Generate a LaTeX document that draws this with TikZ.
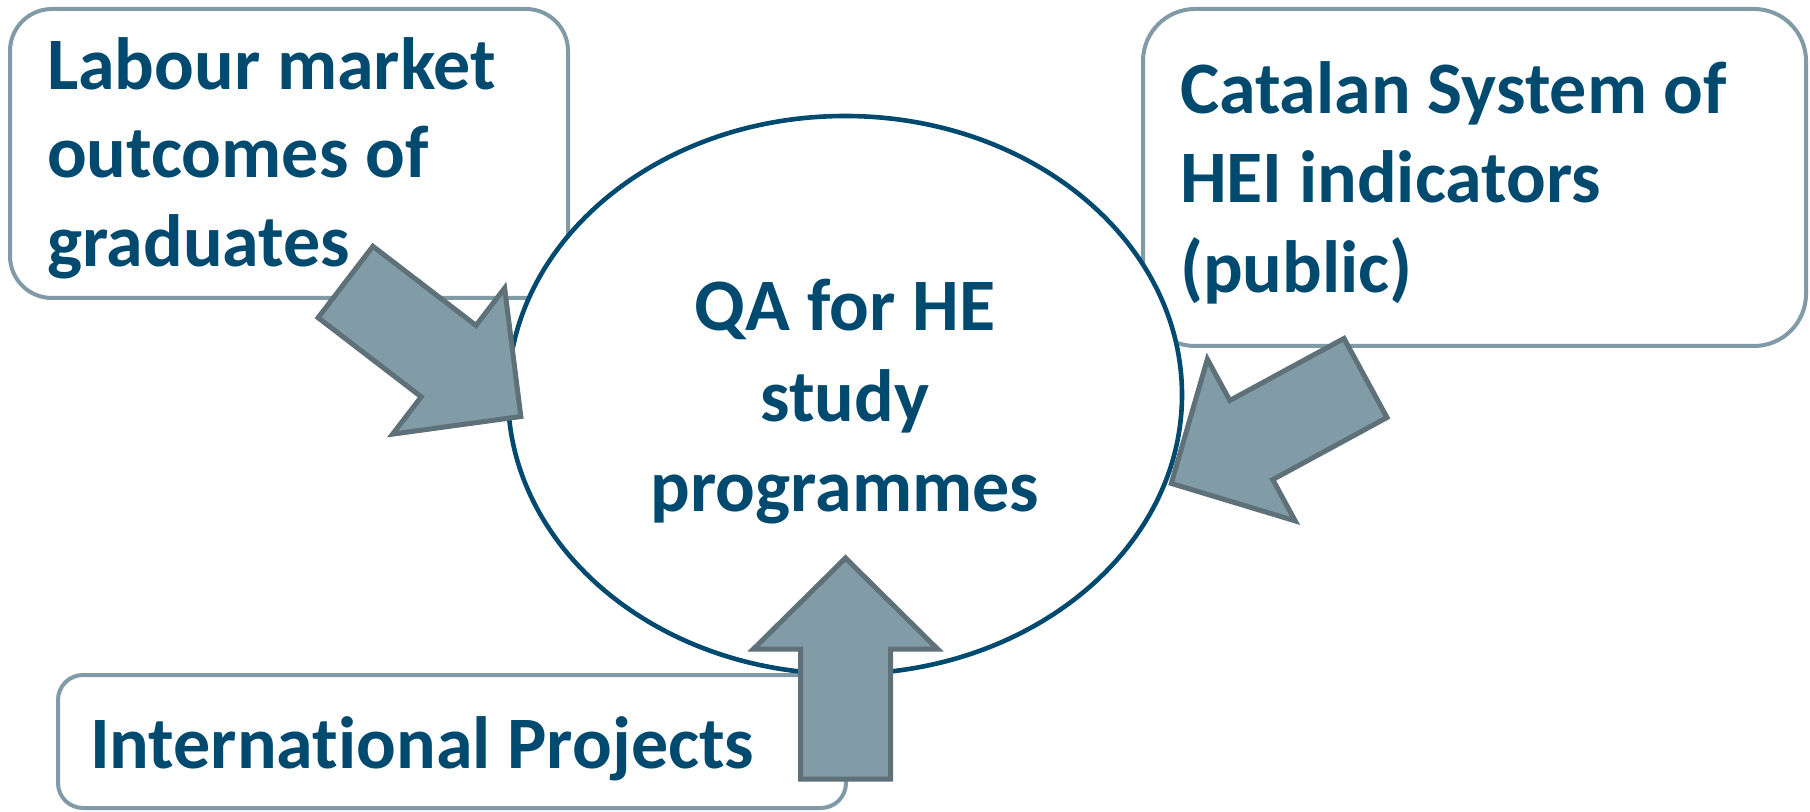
\documentclass[tikz,border=0pt]{standalone}
\usepackage{fontspec}
\setmainfont{Carlito}[Ligatures={NoCommon}]
\usetikzlibrary{shapes.geometric}
\definecolor{txtblue}{HTML}{004A70}
\definecolor{ellblue}{HTML}{004A70}
\definecolor{boxgray}{HTML}{819BA6}
\definecolor{arrfill}{HTML}{829CA7}
\definecolor{arrline}{HTML}{5E7178}
\newcommand\blockarr[3]{%
  \begin{scope}[shift={(#1,#2)},rotate=#3]
    \filldraw[arrstyle] (0,45) -- (130,45) -- (130,92) -- (221,0) -- (130,-92) -- (130,-45) -- (0,-45) -- cycle;
  \end{scope}}
\begin{document}
\begin{tikzpicture}[x=0.5pt,y=-0.5pt,
  box/.style={draw=boxgray, line width=2pt, fill=white, inner sep=0pt, outer sep=0pt},
  lbl/.style={text=txtblue, font=\fontsize{37pt}{44.5pt}\selectfont\bfseries, inner sep=0pt, outer sep=0pt},
  arrstyle/.style={fill=arrfill, draw=arrline, line width=2.5pt, line join=miter},
  ell/.style={ellipse, draw=ellblue, line width=2.3pt, fill=white, inner sep=0pt, minimum width=337pt, minimum height=279pt}]
\useasboundingbox (0,0) rectangle (1810,812);
\node[box, rounded corners=21pt, minimum width=279pt, minimum height=144.5pt] (labbox) at (289,153.5) {};
\node[box, rounded corners=26pt, minimum width=331.5pt, minimum height=168.5pt] (catbox) at (1474.5,177.5) {};
\node[box, rounded corners=12.5pt, minimum width=394pt, minimum height=66.5pt] (intbox) at (452,741.5) {};
\node[ell] (qa) at (845,395) {};
\node[lbl, anchor=base west] (labtxt1) at (47,90) {Labour market};
\node[lbl, anchor=base west] (labtxt2) at (47,178) {outcomes of};
\node[lbl, anchor=base west] (labtxt3) at (47,267) {graduates};
\node[lbl, anchor=base west] (cattxt1) at (1180,114) {Catalan System of};
\node[lbl, anchor=base west] (cattxt2) at (1180,203) {HEI indicators};
\node[lbl, anchor=base west] (cattxt3) at (1180,293) {(public)};
\node[lbl, anchor=base west] (inttxt) at (90,768) {International Projects};
\node[lbl, anchor=base] (qatxt1) at (845,331) {QA for HE};
\node[lbl, anchor=base] (qatxt2) at (845,422) {study};
\node[lbl, anchor=base] (qatxt3) at (845,511) {programmes};
\blockarr{345.5}{282}{-37.5}
\blockarr{1365.5}{378}{208.5}
\blockarr{845.5}{779}{90}
\end{tikzpicture}
\end{document}
